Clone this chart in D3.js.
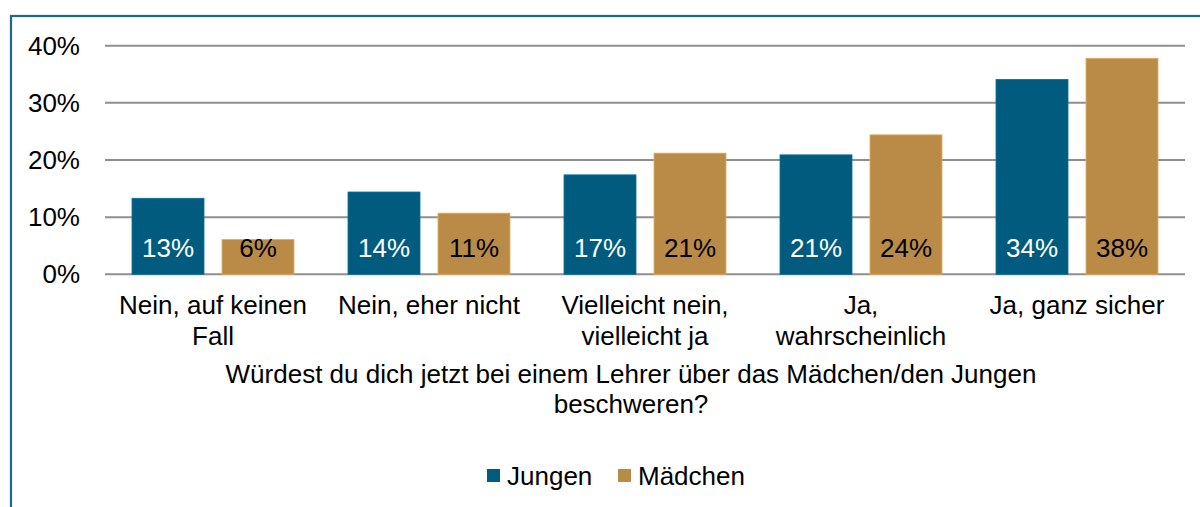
<!DOCTYPE html>
<meta charset="utf-8">
<style>
  body { margin: 0; background: #fff; }
  text { font-family: "Liberation Sans", Arial, Helvetica, sans-serif; font-size: 26px; fill: #000; }
  .grid line { stroke: #8f8f8f; stroke-width: 2px; }
</style>
<svg width="1200" height="507"></svg>
<script src="https://d3js.org/d3.v7.min.js"></script>
<script>

  // categories (each split into its display lines)
  var categories = [
    ["Nein, auf keinen", "Fall"],
    ["Nein, eher nicht"],
    ["Vielleicht nein,", "vielleicht ja"],
    ["Ja,", "wahrscheinlich"],
    ["Ja, ganz sicher"]
  ];
  var series = ["Jungen", "Mädchen"];
  var jungen = [13.3, 14.4, 17.4, 20.9, 34.1];
  var maedchen = [6.1, 10.7, 21.2, 24.4, 37.8];
  var yTicks = [0, 10, 20, 30, 40];
  var axisTitle = ["Würdest du dich jetzt bei einem Lehrer über das Mädchen/den Jungen", "beschweren?"];

  var colors = { "Jungen": "#005b7f", "Mädchen": "#b98b47" };
  var labelColors = { "Jungen": "#fff", "Mädchen": "#000" };

  var svg = d3.select("svg");

  // frame (runs off the right and bottom edge)
  svg.append("rect")
      .attr("x", 11).attr("y", 16)
      .attr("width", 1300).attr("height", 600)
      .attr("fill", "none")
      .attr("stroke", "#1c6790")
      .attr("stroke-width", 2.2);

  var x = d3.scaleBand()
      .domain(d3.range(categories.length))
      .range([105, 1185]);

  var xs = d3.scaleBand()
      .domain(series)
      .range([0, x.bandwidth()])
      .paddingInner(0.2)
      .paddingOuter(0.3);

  var y = d3.scaleLinear()
      .domain([0, 40])
      .range([274.3, 45.7]);

  // gridlines
  svg.append("g")
      .attr("class", "grid")
      .selectAll("line")
      .data(yTicks)
      .enter().append("line")
      .attr("x1", 105).attr("x2", 1185)
      .attr("y1", function(d) { return y(d); })
      .attr("y2", function(d) { return y(d); });

  // y tick labels
  svg.append("g")
      .selectAll("text")
      .data(yTicks)
      .enter().append("text")
      .attr("x", 80)
      .attr("y", function(d) { return y(d) + 9; })
      .attr("text-anchor", "end")
      .text(function(d) { return d + "%"; });

  var rows = categories.map(function(c, i) {
    return { i: i, values: [
      { s: "Jungen", v: jungen[i] },
      { s: "Mädchen", v: maedchen[i] }
    ] };
  });

  var group = svg.append("g")
      .selectAll("g")
      .data(rows)
      .enter().append("g")
      .attr("transform", function(d) { return "translate(" + x(d.i) + ",0)"; });

  group.selectAll("rect")
      .data(function(d) { return d.values; })
      .enter().append("rect")
      .attr("x", function(d) { return xs(d.s); })
      .attr("y", function(d) { return y(d.v); })
      .attr("width", xs.bandwidth())
      .attr("height", function(d) { return y(0) - y(d.v); })
      .attr("fill", function(d) { return colors[d.s]; })
      .attr("stroke", function(d) { return d3.color(colors[d.s]).brighter(0.6); })
      .attr("stroke-width", 0.8);

  group.selectAll("text.val")
      .data(function(d) { return d.values; })
      .enter().append("text")
      .attr("class", "val")
      .attr("x", function(d) { return xs(d.s) + xs.bandwidth() / 2; })
      .attr("y", 257)
      .attr("text-anchor", "middle")
      .style("fill", function(d) { return labelColors[d.s]; })
      .text(function(d) { return Math.round(d.v) + "%"; });

  // category labels
  svg.append("g")
      .selectAll("text")
      .data(categories)
      .enter().append("text")
      .attr("text-anchor", "middle")
      .attr("x", function(d, i) { return x(i) + x.bandwidth() / 2; })
      .attr("y", 314)
      .each(function(lines) {
        var t = d3.select(this);
        lines.forEach(function(l, k) {
          t.append("tspan")
              .attr("x", t.attr("x"))
              .attr("dy", k === 0 ? 0 : 31)
              .text(l);
        });
      });

  // axis title
  var title = svg.append("text")
      .attr("text-anchor", "middle")
      .attr("x", 631)
      .attr("y", 383);
  axisTitle.forEach(function(l, k) {
    title.append("tspan").attr("x", 631).attr("dy", k === 0 ? 0 : 30).text(l);
  });

  // legend
  var legendX = [487, 618];
  var legend = svg.append("g")
      .selectAll("g")
      .data(series)
      .enter().append("g")
      .attr("transform", function(d, i) { return "translate(" + legendX[i] + ",469)"; });
  legend.append("rect")
      .attr("width", 13).attr("height", 13)
      .attr("fill", function(d) { return colors[d]; });
  legend.append("text")
      .attr("x", 20).attr("y", 16)
      .text(function(d) { return d; });

</script>
